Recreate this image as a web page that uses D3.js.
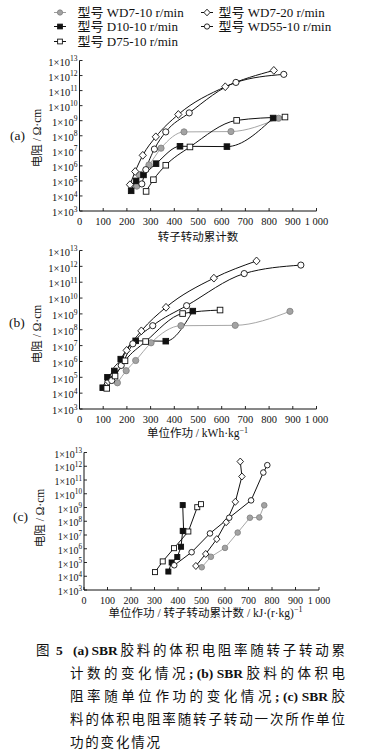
<!DOCTYPE html>
<html><head><meta charset="utf-8">
<script src="https://cdn.jsdelivr.net/npm/d3@7"></script>
<style>
html,body{margin:0;padding:0;background:#fff;}
svg{display:block;}
</style></head><body>
<svg id="c" width="380" height="750"></svg>
<script>
// ---------- data ----------
const seriesNames = ["型号 WD7-10 r/min","型号 WD7-20 r/min","型号 D10-10 r/min","型号 WD55-10 r/min","型号 D75-10 r/min"];
const xTickValues = [0,100,200,300,400,500,600,700,800,900,1000];
const xTickLabels = ["0","100","200","300","400","500","600","700","800","900","1 000"];
const yExponents = [3,4,5,6,7,8,9,10,11,12,13];

// volume resistivity, Ω·cm (same measurements in all three panels)
const rWD7_10  = [4.5e4, 2.6e5, 1.15e6, 1.5e7, 1.8e8, 1.9e8, 1.45e9];
const rWD7_20  = [5.6e4, 4.2e5, 5.0e6, 8.5e7, 2.6e9, 1.8e11, 2.2e12];
const rD10_10  = [2.2e4, 1.0e5, 2.5e5, 1.4e6, 2.0e7, 1.9e7, 1.5e9];
const rWD55_10 = [6.3e4, 5.6e5, 1.3e7, 1.8e8, 3.3e9, 3.5e11, 1.2e12];
const rD75_10  = [2.0e4, 1.2e5, 1.1e6, 1.8e7, 1.05e9, 1.75e9];

// (a) cumulative rotor revolutions
const countWD7_10  = [242, 252, 293, 344, 441, 639, 840];
const countWD7_20  = [213, 235, 267, 322, 417, 615, 820];
const countD10_10  = [218, 239, 270, 323, 424, 622, 817];
const countWD55_10 = [263, 280, 316, 364, 463, 660, 862];
const countD75_10  = [281, 312, 364, 466, 663, 867];

// (b) specific work, kWh·kg-1
const workWD7_10  = [160, 197, 237, 302, 428, 657, 888];
const workWD7_20  = [122, 160, 199, 261, 365, 567, 747];
const workD10_10  = [98, 118, 147, 174, 237, 364, 478];
const workWD55_10 = [136, 176, 225, 309, 452, 695, 934];
const workD75_10  = [115, 150, 192, 279, 435, 593];

// (c) specific work per revolution, kJ·(r·kg)-1
const perRevWD7_10  = [501, 540, 600, 654, 706, 746, 767];
const perRevWD7_20  = [476, 518, 565, 605, 644, 672, 665];
const perRevD10_10  = [359, 373, 397, 413, 420, 424, 420];
const perRevWD55_10 = [384, 458, 536, 618, 711, 763, 780];
const perRevD75_10  = [302, 335, 383, 444, 482, 498];

const captionLines = [
  [["(a)",1],["SBR",1],["胶料的体积电阻率随转子转动累",0]],
  [["计数的变化情况",0],[";",1],["(b)",1],["SBR",1],["胶料的体积电",0]],
  [["阻率随单位作功的变化情况",0],[";",1],["(c)",1],["SBR",1],["胶",0]],
  [["料的体积电阻率随转子转动一次所作单位",0]],
  [["功的变化情况",0]]
];

// ---------- styles ----------
const FONT = '"Liberation Serif","Noto Sans CJK SC",serif';
const styles = [
  {shape:"circle",  fill:"#a3a3a3", stroke:"#858585", line:"#9c9c9c"},
  {shape:"diamond", fill:"#fff",    stroke:"#111",    line:"#111"},
  {shape:"square",  fill:"#111",    stroke:"#111",    line:"#111"},
  {shape:"circle",  fill:"#fff",    stroke:"#111",    line:"#111"},
  {shape:"square",  fill:"#fff",    stroke:"#111",    line:"#111"}
];
const resist = [rWD7_10, rWD7_20, rD10_10, rWD55_10, rD75_10];

const svg = d3.select("#c").attr("font-family", FONT);

function drawMarker(g, st, cx, cy, s){
  if(st.shape==="circle"){
    g.append("circle").attr("cx",cx).attr("cy",cy).attr("r",3.1*s)
     .attr("fill",st.fill).attr("stroke",st.stroke).attr("stroke-width",0.9);
  } else if(st.shape==="diamond"){
    const a=3.9*s,b=3.6*s;
    g.append("path").attr("d",`M${cx},${cy-a}L${cx+b},${cy}L${cx},${cy+a}L${cx-b},${cy}Z`)
     .attr("fill",st.fill).attr("stroke",st.stroke).attr("stroke-width",0.9);
  } else {
    const h=2.8*s;
    g.append("rect").attr("x",cx-h).attr("y",cy-h).attr("width",2*h).attr("height",2*h)
     .attr("fill",st.fill).attr("stroke",st.stroke).attr("stroke-width",0.9);
  }
}

// ---------- legend ----------
const legendPos = [[60,12.5],[207,12.5],[60,26.5],[207,26.5],[60,41.5]];
seriesNames.forEach((name,i)=>{
  const [mx,my]=legendPos[i];
  const g=svg.append("g");
  g.append("line").attr("x1",mx-6).attr("x2",mx+6).attr("y1",my).attr("y2",my)
   .attr("stroke",styles[i].line).attr("stroke-width",1);
  drawMarker(g, styles[i], mx, my, 0.85);
  g.append("text").attr("x", i%2===1 ? mx+11.5 : mx+17.5).attr("y",my+4.3)
   .attr("font-size",13).attr("fill","#111").text(name);
});

// ---------- panels ----------
const panels = [
  {x0:79.5, x1:316.5, yTop:60.5, yBot:211, xs:[countWD7_10,countWD7_20,countD10_10,countWD55_10,countD75_10],
   curve:d3.curveMonotoneX, ms:1, label:"(a)", labelX:10, labelY:135, yTitleX:36.5, yTitleY:138,
   xTitle:[["转子转动累计数",0]], xTitleX:198, xTitleY:236.7, fs:10.5},
  {x0:79.5, x1:316.5, yTop:250.5, yBot:409, xs:[workWD7_10,workWD7_20,workD10_10,workWD55_10,workD75_10],
   curve:d3.curveMonotoneX, ms:1, label:"(b)", labelX:9, labelY:322, yTitleX:36.5, yTitleY:334,
   xTitle:[["单位作功 / kWh·kg",0],["−1",1]], xTitleX:197.5, xTitleY:433.3, fs:10.5},
  {x0:84, x1:319, yTop:452.5, yBot:590, xs:[perRevWD7_10,perRevWD7_20,perRevD10_10,perRevWD55_10,perRevD75_10],
   curve:d3.curveLinear, ms:0.9, label:"(c)", labelX:13, labelY:516, yTitleX:40, yTitleY:518,
   xTitle:[["单位作功 / 转子转动累计数 / kJ·(r·kg)",0],["−1",1]], xTitleX:205.5, xTitleY:612.7, fs:10}
];

panels.forEach(p=>{
  const x=d3.scaleLinear().domain([0,1000]).range([p.x0,p.x1]);
  const y=d3.scaleLog().domain([1e3,1e13]).range([p.yBot,p.yTop]);
  const g=svg.append("g");

  g.append("line").attr("x1",p.x0).attr("x2",p.x0).attr("y1",p.yTop).attr("y2",p.yBot).attr("stroke","#111").attr("stroke-width",1);
  g.append("line").attr("x1",p.x0).attr("x2",p.x1).attr("y1",p.yBot).attr("y2",p.yBot).attr("stroke","#111").attr("stroke-width",1);

  xTickValues.forEach((v,i)=>{
    const xx=x(v);
    g.append("line").attr("x1",xx).attr("x2",xx).attr("y1",p.yBot).attr("y2",p.yBot-3).attr("stroke","#111").attr("stroke-width",0.9);
    g.append("text").attr("x",xx).attr("y",p.yBot+10.7+0.36*p.fs).attr("text-anchor","middle")
     .attr("font-size",p.fs).attr("fill","#111").text(xTickLabels[i]);
  });
  yExponents.forEach(e=>{
    const yy=y(Math.pow(10,e));
    g.append("line").attr("x1",p.x0).attr("x2",p.x0+3).attr("y1",yy).attr("y2",yy).attr("stroke","#111").attr("stroke-width",0.9);
    const t=g.append("text").attr("x",p.x0-2).attr("y",yy+1.5+0.36*p.fs).attr("text-anchor","end")
     .attr("font-size",p.fs).attr("fill","#111");
    t.append("tspan").text("1×10");
    t.append("tspan").attr("dy",-4.6).attr("font-size",p.fs*0.72).text(e);
  });

  g.append("text").attr("x",p.labelX).attr("y",p.labelY+4.6).attr("font-size",13.5).attr("fill","#111").text(p.label);
  g.append("text").attr("transform",`translate(${p.yTitleX+4},${p.yTitleY}) rotate(-90)`)
   .attr("text-anchor","middle").attr("font-size",11.5).attr("fill","#111").text("电阻 / Ω·cm");
  const xt=g.append("text").attr("x",p.xTitleX).attr("y",p.xTitleY+4).attr("text-anchor","middle")
   .attr("font-size",11.5).attr("fill","#111");
  p.xTitle.forEach(([s,sup])=>{
    const ts=xt.append("tspan").text(s);
    if(sup) ts.attr("dy",-4.5).attr("font-size",8);
  });

  const lineGen=d3.line().curve(p.curve).x(d=>x(d[0])).y(d=>y(d[1]));
  resist.forEach((r,i)=>{
    const pts=p.xs[i].map((v,j)=>[v,r[j]]);
    g.append("path").attr("d",lineGen(pts)).attr("fill","none")
     .attr("stroke",styles[i].line).attr("stroke-width",i===0?0.9:1);
  });
  resist.forEach((r,i)=>{
    p.xs[i].forEach((v,j)=>drawMarker(g, styles[i], x(v), y(r[j]), p.ms));
  });
});

// ---------- caption (justified token by token) ----------
const cap=svg.append("g").attr("fill","#111").attr("font-size",13.5);
cap.append("text").attr("x",36).attr("y",655).text("图");
cap.append("text").attr("x",56).attr("y",655).attr("font-weight","bold").text("5");
const capY=[655,678,701,724,746.5];
captionLines.forEach((segs,i)=>{
  // tokens: each CJK char separately, each latin run as one token
  const tokens=[];
  segs.forEach(([s,b])=>{
    if(b) tokens.push({s,b});
    else Array.from(s).forEach(ch=>tokens.push({s:ch,b:0}));
  });
  const nodes=tokens.map(tk=>{
    const t=cap.append("text").attr("y",capY[i]).text(tk.s);
    if(tk.b) t.attr("font-weight","bold");
    return {t, w:t.node().getComputedTextLength()};
  });
  const x0=i===0?73:70, x1=345;
  const total=d3.sum(nodes,n=>n.w);
  const gap = i<4 ? (x1-x0-total)/(nodes.length-1) : 1.8;
  let cx=x0;
  nodes.forEach(n=>{ n.t.attr("x",cx); cx+=n.w+gap; });
});
</script>
</body></html>
